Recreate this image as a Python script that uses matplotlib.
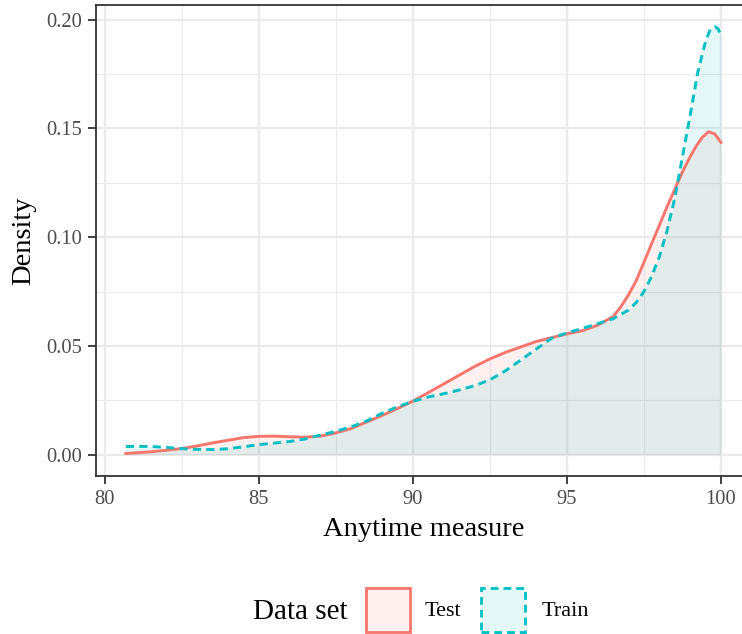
import numpy as np
import matplotlib
matplotlib.use("Agg")
from matplotlib import pyplot as plt
from matplotlib.patches import Rectangle
from matplotlib.colors import to_rgba

# density estimates
test_x = [80.68, 81.0, 81.5, 82.0, 82.5, 83.0, 83.5, 84.0, 84.5, 85.0, 85.5, 86.0,
          86.5, 87.0, 87.5, 88.0, 88.5, 89.0, 89.5, 90.0, 90.5, 91.0, 91.5, 92.0,
          92.5, 93.0, 93.5, 94.0, 94.5, 95.0, 95.5, 96.0, 96.5, 96.75, 97.0, 97.25,
          97.5, 97.75, 98.0, 98.25, 98.5, 98.75, 99.0, 99.2, 99.4, 99.6, 99.8, 100.0]
test_y = [0.0005, 0.0008, 0.0013, 0.0020, 0.0028, 0.0040, 0.0054, 0.0066, 0.0078,
          0.0084, 0.0085, 0.0082, 0.0080, 0.0085, 0.0100, 0.0120, 0.0150, 0.0180,
          0.0212, 0.0246, 0.0285, 0.0325, 0.0365, 0.0405, 0.0440, 0.0470, 0.0495,
          0.0520, 0.0538, 0.0555, 0.0570, 0.0595, 0.0635, 0.0680, 0.0735, 0.0800,
          0.0885, 0.0970, 0.1055, 0.1140, 0.1220, 0.1300, 0.1370, 0.1420, 0.1460,
          0.1485, 0.1475, 0.1436]

train_x = [80.68, 81.0, 81.5, 82.0, 82.5, 83.0, 83.5, 84.0, 84.5, 85.0, 85.5, 86.0,
           86.5, 87.0, 87.5, 88.0, 88.5, 89.0, 89.5, 90.0, 90.5, 91.0, 91.5, 92.0,
           92.5, 93.0, 93.5, 94.0, 94.5, 95.0, 95.5, 96.0, 96.5, 97.0, 97.25, 97.5,
           97.75, 98.0, 98.25, 98.5, 98.75, 99.0, 99.25, 99.5, 99.65, 99.8, 99.9, 100.0]
train_y = [0.0037, 0.0038, 0.0037, 0.0033, 0.0027, 0.0024, 0.0023, 0.0027, 0.0036,
           0.0046, 0.0053, 0.0060, 0.0072, 0.0090, 0.0107, 0.0128, 0.0155, 0.0190,
           0.0220, 0.0245, 0.0265, 0.0280, 0.0297, 0.0317, 0.0344, 0.0385, 0.0435,
           0.0485, 0.0535, 0.0560, 0.0580, 0.0602, 0.0625, 0.0665, 0.0700, 0.0750,
           0.0820, 0.0910, 0.1030, 0.1180, 0.1370, 0.1560, 0.1760, 0.1900, 0.1955,
           0.1968, 0.1960, 0.1930]

series = ["Test", "Train"]
colors = {"Test": "#F8766D", "Train": "#00BFC4"}
styles = {"Test": "-", "Train": (0, (2.8, 1.8))}
xs = {"Test": test_x, "Train": train_x}
ys = {"Test": test_y, "Train": train_y}

x_ticks = [80, 85, 90, 95, 100]
y_ticks = [0.00, 0.05, 0.10, 0.15, 0.20]
y_labels = ["0.00", "0.05", "0.10", "0.15", "0.20"]

plt.rcParams['font.family'] = ['Liberation Serif', 'DejaVu Serif']

W, H = 742, 634
fig = plt.figure(figsize=(W / 100, H / 100), dpi=100)
left, right, top, bottom = 96, 750.7, 5, 476
ax = fig.add_axes([left / W, 1 - bottom / H, (right - left) / W, (bottom - top) / H])

for s in series:
    ax.fill_between(xs[s], ys[s], 0, color=colors[s], alpha=0.1, lw=0)
    ax.plot(xs[s], ys[s], color=colors[s], lw=2.1, linestyle=styles[s],
            solid_joinstyle='round')

ax.set_xlim(79.71, 100.966)
ax.set_ylim(-0.00985, 0.2068)
ax.set_xticks(x_ticks)
ax.set_xticks([82.5, 87.5, 92.5, 97.5], minor=True)
ax.set_yticks(y_ticks)
ax.set_yticklabels(y_labels)
ax.set_yticks([0.025, 0.075, 0.125, 0.175], minor=True)

ax.grid(which='major', color='#EBEBEB', lw=1.6)
ax.grid(which='minor', color='#EBEBEB', lw=0.8)
ax.set_axisbelow(True)
for sp in ax.spines.values():
    sp.set_color('#333333')
    sp.set_linewidth(1.3)

ax.tick_params(which='major', length=6, width=1.3, color='#333333',
               labelsize=14.8, labelcolor='#4D4D4D', pad=4)
ax.tick_params(which='minor', length=0)

ax.set_xlabel("Anytime measure", fontsize=20.5, labelpad=6)
ax.set_ylabel("Density", fontsize=20.5, labelpad=7)

# legend at the bottom
ly = 612
fig.text(253 / W, 1 - ly / H, "Data set", fontsize=21, va='center', ha='left')
key_x = {"Test": 366, "Train": 481}
lab_x = {"Test": 425, "Train": 542}
for s in series:
    r = Rectangle((key_x[s] / W, 1 - 632 / H), 44 / W, 44 / H, transform=fig.transFigure,
                  facecolor=to_rgba(colors[s], 0.1), edgecolor=colors[s], lw=2.0,
                  linestyle=styles[s])
    fig.add_artist(r)
    fig.text(lab_x[s] / W, 1 - ly / H, s, fontsize=16, va='center', ha='left')

fig.savefig("out.png", dpi=100)
